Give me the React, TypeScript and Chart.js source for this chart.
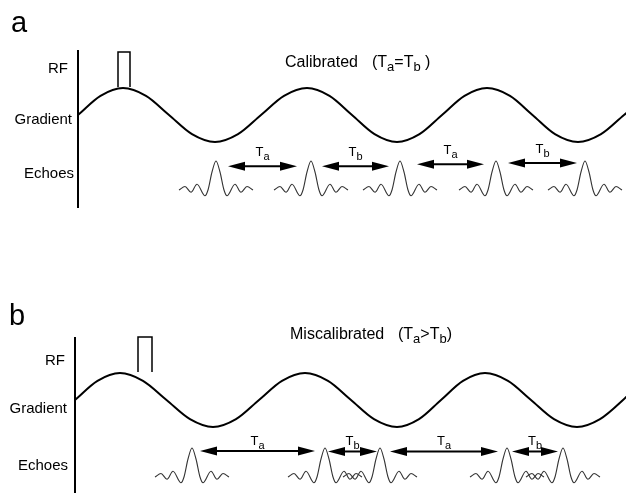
import React, { useEffect, useRef } from "react";
import { Chart, registerables } from "chart.js";
Chart.register(...registerables);

// ---------------- data (time units along each sequence, signal units per row) ----------------
const echoOffsets = [-37, -31, -25, -19, -11, -8, -4, 0, 4, 8, 11, 19, 25, 31, 37];
const echoShape = [0, 0.12, -0.08, 0.2, -0.2, 0, 0.62, 1, 0.62, 0, -0.2, 0.2, -0.08, 0.12, 0];

// panel a : calibrated
const gradTimesA = [0, 22.5, 45, 68, 91, 114, 137, 160, 183, 206, 229, 251.5, 274, 296.5, 319, 341.5, 364, 386.5, 409, 432, 454.5, 477, 500, 523, 546, 556];
const gradValuesA = [0, 0.71, 1, 0.71, 0, -0.71, -1, -0.71, 0, 0.71, 1, 0.71, 0, -0.71, -1, -0.71, 0, 0.71, 1, 0.71, 0, -0.71, -1, -0.71, 0, 0.3];
const rfTimesA = [40, 40, 52, 52];
const rfValuesA = [0, 1, 1, 0];
const echoCentersA = [138, 233, 322, 418, 507];
const arrowStartA = [150, 244, 339, 430];
const arrowEndA = [219, 311, 406, 499];
const arrowLevelA = [0.82, 0.82, 0.89, 0.93];
const arrowSubsA = ["a", "b", "a", "b"];

// panel b : miscalibrated
const gradTimesB = [0, 22.5, 45, 68, 91.5, 115, 138, 161, 184, 207, 230, 253, 276, 299, 322, 344, 366, 388, 410, 433, 456, 479, 502, 525, 548, 556];
const gradValuesB = [0, 0.71, 1, 0.71, 0, -0.71, -1, -0.71, 0, 0.71, 1, 0.71, 0, -0.71, -1, -0.71, 0, 0.71, 1, 0.71, 0, -0.71, -1, -0.71, 0, 0.3];
const rfTimesB = [63, 63, 77, 77];
const rfValuesB = [0, 1, 1, 0];
const echoCentersB = [117, 250, 305, 432, 488];
const arrowStartB = [125, 253, 315, 437];
const arrowEndB = [240, 302, 423, 483];
const arrowLevelB = [0.9, 0.88, 0.88, 0.88];
const arrowSubsB = ["a", "b", "a", "b"];

const rowNames = ["RF", "Gradient", "Echoes"];

// ---------------- layout ----------------
const FONT = '"Liberation Sans", Arial, Helvetica, sans-serif';
const W = 626;

type Part = [string, boolean];

const panels = [
  {
    key: "a", top: 0, height: 246, axisPx: 78, axisTop: 50, axisBottom: 208,
    letter: "a", letterX: 11, letterY: 32,
    titleWord: "Calibrated", titleX: 285, titleY: 67, parenX: 372,
    titleParts: [["(T", false], ["a", true], ["=T", false], ["b", true], [" )", false]] as Part[],
    gradCenter: 115, gradUnit: 27, rfBase: 87, rfUnit: 35, echoBase: 190, echoUnit: 29,
    rowRight: [68, 72, 74], rowY: [73, 124, 178], labelGap: 10,
    gradT: gradTimesA, gradV: gradValuesA, rfT: rfTimesA, rfV: rfValuesA,
    echoes: echoCentersA, aS: arrowStartA, aE: arrowEndA, aL: arrowLevelA, aSub: arrowSubsA,
  },
  {
    key: "b", top: 246, height: 247, axisPx: 75, axisTop: 91, axisBottom: 247,
    letter: "b", letterX: 9, letterY: 79,
    titleWord: "Miscalibrated", titleX: 290, titleY: 93, parenX: 398,
    titleParts: [["(T", false], ["a", true], [">T", false], ["b", true], [")", false]] as Part[],
    gradCenter: 154, gradUnit: 27, rfBase: 126, rfUnit: 35, echoBase: 231, echoUnit: 29,
    rowRight: [65, 67, 68], rowY: [119, 167, 224], labelGap: 6,
    gradT: gradTimesB, gradV: gradValuesB, rfT: rfTimesB, rfV: rfValuesB,
    echoes: echoCentersB, aS: arrowStartB, aE: arrowEndB, aL: arrowLevelB, aSub: arrowSubsB,
  },
];

function yRange(centerPx: number, unitPx: number, H: number) {
  return { min: (centerPx - H) / unitPx, max: centerPx / unitPx };
}

function drawRich(ctx: CanvasRenderingContext2D, parts: Part[], x: number, y: number, size: number, subSize: number, drop: number, align: "left" | "center") {
  const widths = parts.map(([t, sub]) => {
    ctx.font = `${sub ? subSize : size}px ${FONT}`;
    return ctx.measureText(t).width;
  });
  const total = widths.reduce((s, w) => s + w, 0);
  let cx = align === "center" ? x - total / 2 : x;
  ctx.textAlign = "left";
  ctx.textBaseline = "alphabetic";
  parts.forEach(([t, sub], i) => {
    ctx.font = `${sub ? subSize : size}px ${FONT}`;
    ctx.fillText(t, cx, sub ? y + drop : y);
    cx += widths[i];
  });
}

function Panel({ p }: { p: (typeof panels)[number] }) {
  const ref = useRef<HTMLCanvasElement>(null);
  useEffect(() => {
    if (!ref.current) return;
    const H = p.height;
    const grad = yRange(p.gradCenter, p.gradUnit, H);
    const rf = yRange(p.rfBase, p.rfUnit, H);
    const echo = yRange(p.echoBase, p.echoUnit, H);

    const datasets: any[] = [
      {
        label: "Gradient",
        data: p.gradT.map((t, i) => ({ x: t, y: p.gradV[i] })),
        yAxisID: "grad", borderColor: "#000", borderWidth: 2,
        pointRadius: 0, cubicInterpolationMode: "monotone", fill: false,
      },
      {
        label: "RF",
        data: p.rfT.map((t, i) => ({ x: t, y: p.rfV[i] })),
        yAxisID: "rf", borderColor: "#000", borderWidth: 1.5,
        pointRadius: 0, tension: 0, fill: false,
      },
      ...p.echoes.map((c, k) => ({
        label: "Echo " + (k + 1),
        data: echoOffsets.map((o, i) => ({ x: c + o, y: echoShape[i] })),
        yAxisID: "echo", borderColor: "#333", borderWidth: 1.1,
        pointRadius: 0, cubicInterpolationMode: "monotone", fill: false,
      })),
    ];

    const overlay = {
      id: "overlay",
      afterDatasetsDraw(chart: any) {
        const ctx: CanvasRenderingContext2D = chart.ctx;
        const xs = chart.scales.x;
        const es = chart.scales.echo;
        ctx.save();
        ctx.fillStyle = "#000";
        ctx.strokeStyle = "#000";
        // vertical axis line at time 0
        const x0 = xs.getPixelForValue(0);
        ctx.lineWidth = 2;
        ctx.beginPath();
        ctx.moveTo(x0, p.axisTop);
        ctx.lineTo(x0, p.axisBottom);
        ctx.stroke();
        // row labels
        ctx.font = `15px ${FONT}`;
        ctx.textAlign = "right";
        ctx.textBaseline = "alphabetic";
        rowNames.forEach((n, i) => ctx.fillText(n, p.rowRight[i], p.rowY[i]));
        // panel letter
        ctx.textAlign = "left";
        ctx.font = `29px ${FONT}`;
        ctx.fillText(p.letter, p.letterX, p.letterY);
        // title
        ctx.font = `16px ${FONT}`;
        ctx.fillText(p.titleWord, p.titleX, p.titleY);
        drawRich(ctx, p.titleParts, p.parenX, p.titleY, 16, 13, 4, "left");
        // arrows
        const headL = 17, headW = 4.5;
        p.aS.forEach((s, i) => {
          const xa = xs.getPixelForValue(s);
          const xb = xs.getPixelForValue(p.aE[i]);
          const y = es.getPixelForValue(p.aL[i]);
          ctx.lineWidth = 2;
          ctx.beginPath();
          ctx.moveTo(xa + headL - 2, y);
          ctx.lineTo(xb - headL + 2, y);
          ctx.stroke();
          ctx.beginPath();
          ctx.moveTo(xa, y);
          ctx.lineTo(xa + headL, y - headW);
          ctx.lineTo(xa + headL, y + headW);
          ctx.closePath();
          ctx.fill();
          ctx.beginPath();
          ctx.moveTo(xb, y);
          ctx.lineTo(xb - headL, y - headW);
          ctx.lineTo(xb - headL, y + headW);
          ctx.closePath();
          ctx.fill();
          drawRich(ctx, [["T", false], [p.aSub[i], true]], (xa + xb) / 2, y - p.labelGap, 13, 11, 4, "center");
        });
        ctx.restore();
      },
    };

    const chart = new Chart(ref.current, {
      type: "line",
      data: { datasets },
      options: {
        animation: false,
        responsive: false,
        maintainAspectRatio: false,
        layout: { padding: 0 },
        plugins: { legend: { display: false }, tooltip: { enabled: false }, title: { display: false } },
        scales: {
          x: { type: "linear", min: -p.axisPx, max: W - p.axisPx, display: false },
          grad: { axis: "y", type: "linear", position: "left", min: grad.min, max: grad.max, display: false },
          rf: { axis: "y", type: "linear", position: "left", min: rf.min, max: rf.max, display: false },
          echo: { axis: "y", type: "linear", position: "left", min: echo.min, max: echo.max, display: false },
        },
      } as any,
      plugins: [overlay],
    });
    return () => chart.destroy();
  }, [p]);
  return (
    <canvas
      ref={ref}
      width={W}
      height={p.height}
      style={{ position: "absolute", left: 0, top: p.top, width: W, height: p.height }}
    />
  );
}

export default function App() {
  return (
    <div style={{ position: "absolute", left: 0, top: 0, width: W, height: 493, background: "#fff" }}>
      {panels.map((p) => (
        <Panel key={p.key} p={p} />
      ))}
    </div>
  );
}
